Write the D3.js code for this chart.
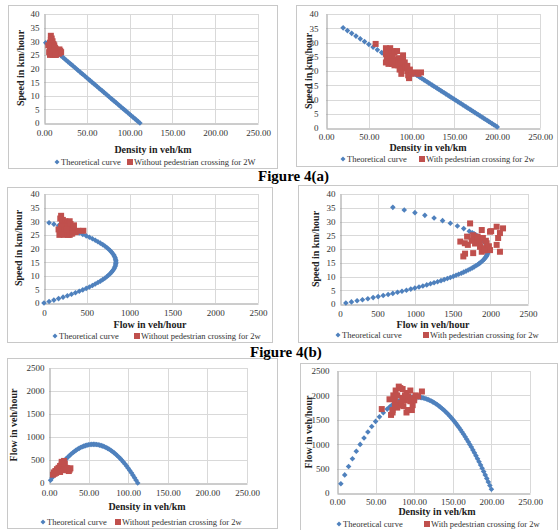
<!DOCTYPE html>
<html><head><meta charset="utf-8">
<script src="https://cdn.jsdelivr.net/npm/d3@7"></script>
<style>body{margin:0;background:#fff}svg{display:block}svg text{font-family:"Liberation Serif","Times New Roman",serif}</style>
</head><body>
<svg id="c" width="558" height="530"></svg>
<script>
// ---------- DATA ----------
// Theoretical curve (left column: without pedestrian crossing)
const thLeftDensity = [2,4,6,8,10,12,14,16,18,20,22,24,26,28,30,32,34,36,38,40,42,44,46,48,50,52,54,56,58,60,62,64,66,68,70,72,74,76,78,80,82,84,86,88,90,92,94,96,98,100,102,104,106,108,110,112];
const thLeftSpeed = [29.46,28.93,28.39,27.86,27.32,26.79,26.25,25.71,25.18,24.64,24.11,23.57,23.04,22.50,21.96,21.43,20.89,20.36,19.82,19.29,18.75,18.21,17.68,17.14,16.61,16.07,15.54,15.00,14.46,13.93,13.39,12.86,12.32,11.79,11.25,10.71,10.18,9.64,9.11,8.57,8.04,7.50,6.96,6.43,5.89,5.36,4.82,4.29,3.75,3.21,2.68,2.14,1.61,1.07,0.54,0.00];
// Theoretical curve (right column: with pedestrian crossing)
const thRightDensity = [5,10,15,20,25,30,35,40,45,50,55,60,65,68,70,72,74,76,78,80,82,84,86,88,90,92,94,96,98,100,102,104,106,108,110,112,114,116,118,120,122,124,126,128,130,132,134,136,138,140,142,144,146,148,150,152,154,156,158,160,162,164,166,168,170,172,174,176,178,180,182,184,186,188,190,192,194,196,198,200];
const thRightSpeed = [38.03,37.07,36.10,35.14,34.17,33.21,32.24,31.28,30.31,29.35,28.38,27.42,26.45,25.87,25.49,25.10,24.71,24.33,23.94,23.55,23.17,22.78,22.40,22.01,21.62,21.24,20.85,20.47,20.08,19.69,19.31,18.92,18.53,18.15,17.76,17.38,16.99,16.60,16.22,15.83,15.45,15.06,14.67,14.29,13.90,13.51,13.13,12.74,12.36,11.97,11.58,11.20,10.81,10.43,10.04,9.65,9.27,8.88,8.50,8.11,7.72,7.34,6.95,6.56,6.18,5.79,5.41,5.02,4.63,4.25,3.86,3.48,3.09,2.70,2.32,1.93,1.54,1.16,0.77,0.39];

// Observed: speed-density without crossing (Fig 4a left)
const obsA1Density = [8,9,8,10,7,9,11,12,8,10,13,7,11,14,16,18,6,9,12,15,19,7,10,13,16,18,8,12,10,14,5,20];
const obsA1Speed   = [32,31,30.5,30,29.5,29,29,28.5,28,28,27.5,27,27,27,26.5,27,26,26,26,26,26.5,25,25,25,25.5,25.5,27.5,27.8,26.5,25,28.5,26];
// Observed: speed-density with crossing (Fig 4a right)
const obsA2Density = [58,70,72,75,78,73,70,76,80,83,72,75,78,71,74,80,85,70,73,77,82,87,90,80,84,88,92,89,93,86,88,95,98,97,96,100,104,108,111,95,90,78];
const obsA2Speed   = [29.5,28,27.5,28,27,26.5,26,26,26.5,27,25,24.5,25,24,23.5,24,24.5,23,22.5,22.5,23,23.5,24,22,22,22.5,23,21,21.5,20.5,19,20,20.5,17.5,18.5,19,19.5,19,19.5,21.8,25.5,23.5];
// Observed: speed-flow without crossing (Fig 4b left)
const obsB1Flow  = [200,190,220,210,250,280,300,230,260,200,280,320,340,350,300,250,220,180,230,280,320,370,400,170,300,330,460,260,310,350];
const obsB1Speed = [32,31,30.5,29.5,30,29.5,30,28.5,28,28,27.5,28,27,26.5,26.5,26,26.5,25,25,25,25.5,26,26.5,27,25,25.5,26.5,27,29,28.5];
// Observed: speed-flow with crossing (Fig 4b right)
const obsB2Flow  = [1730,1600,1660,1690,1770,1820,1885,1900,1950,1995,2083,2168,2127,2103,2083,1995,1885,1771,1663,1640,2127,1862,1928,1796,1860,1750,1700,1940,1980,1920,1830,2010];
const obsB2Speed = [29.3,22.7,22.1,24.5,25,23.3,26.9,24,22.1,26.3,28.1,27.5,25.8,24,21.5,19.6,19,18.5,18.3,17.3,19,20.8,20.3,22,22.5,23,21.5,23,21,19.5,24.5,26.5];
// Observed: flow-density without crossing (Fig 4c left)
const obsC1Density = [5,6,8,7,10,12,11,14,16,18,19,17,15,13,20,22,24,26,27,25,21,18,9,16,20,23,14];
const obsC1Flow    = [180,230,260,200,300,330,250,370,400,430,480,350,300,280,300,280,300,290,320,260,330,280,220,460,420,320,240];
// Observed: flow-density with crossing (Fig 4c right)
const obsC2Density = [58,70,72,75,73,76,80,82,85,90,95,85,88,80,78,90,92,97,98,95,100,105,110,102,83,75,72,68,92,88,100,78,86];
const obsC2Flow    = [1720,1600,1650,1900,2000,2100,2180,2150,2130,2050,2100,1950,1900,1800,1750,1650,1700,1700,1800,1880,1950,1980,2080,2000,1850,1800,1700,1920,1980,2000,1900,2000,1780];

const densityTicks = [0,50,100,150,200,250];
const flowTicks = [0,500,1000,1500,2000,2500];
const speedTicks = [0,5,10,15,20,25,30,35,40];

const leftFlow = thLeftDensity.map((k,i)=>k*thLeftSpeed[i]);
const rightFlow = thRightDensity.map((k,i)=>k*thRightSpeed[i]);

// ---------- DRAW ----------
const svg = d3.select('#c');
const BLUE = '#4F81BD', RED = '#C0504D', GRID = '#D9D9D9';

function diamond(g, pts, r){
  g.selectAll(null).data(pts).join('path')
   .attr('d', d=>`M${d[0]},${d[1]-r}L${d[0]+r},${d[1]}L${d[0]},${d[1]+r}L${d[0]-r},${d[1]}Z`)
   .attr('fill', BLUE);
}
function squares(g, pts, s){
  g.selectAll(null).data(pts).join('rect')
   .attr('x', d=>d[0]-s/2).attr('y', d=>d[1]-s/2).attr('width', s).attr('height', s)
   .attr('fill', RED);
}

function panel(c){
  const g = svg.append('g');
  g.append('rect').attr('x', c.box[0]+0.5).attr('y', c.box[1]+0.5)
   .attr('width', c.box[2]-c.box[0]).attr('height', c.box[3]-c.box[1])
   .attr('fill', '#fff').attr('stroke', '#C8C8C8');
  const x = d3.scaleLinear().domain([c.xTicks[0], c.xTicks[c.xTicks.length-1]]).range([c.px[0], c.px[1]]);
  const y = d3.scaleLinear().domain([c.yTicks[0], c.yTicks[c.yTicks.length-1]]).range([c.py[0], c.py[1]]);
  g.append('g').selectAll(null).data(c.xTicks.slice(1)).join('line')
   .attr('x1', d=>Math.round(x(d))+0.5).attr('x2', d=>Math.round(x(d))+0.5)
   .attr('y1', c.py[0]).attr('y2', c.py[1]).attr('stroke', GRID);
  g.append('g').selectAll(null).data(c.yTicks.slice(1)).join('line')
   .attr('y1', d=>Math.round(y(d))+0.5).attr('y2', d=>Math.round(y(d))+0.5)
   .attr('x1', c.px[0]).attr('x2', c.px[1]).attr('stroke', GRID);
  const ax = g.append('g').attr('transform', `translate(0,${Math.round(c.py[0])+0.5})`)
   .call(d3.axisBottom(x).tickValues(c.xTicks).tickFormat(c.xFmt).tickSize(0).tickPadding(c.xpad||6));
  const ay = g.append('g').attr('transform', `translate(${Math.round(c.px[0])+0.5},0)`)
   .call(d3.axisLeft(y).tickValues(c.yTicks).tickFormat(d3.format('d')).tickSize(0).tickPadding(c.ypad||5));
  [ax, ay].forEach(a=>{
    a.select('.domain').attr('stroke', '#9A9A9A');
    a.selectAll('text').attr('font-size', 9).attr('fill', '#333');
  });
  const plot = g.append('g');
  diamond(plot, c.theo.map(d=>[x(d[0]), y(d[1])]), 2.8);
  squares(plot, c.obs.map(d=>[x(d[0]), y(d[1])]), 6);
  g.append('text').attr('x', c.xt[0]).attr('y', c.xt[1]).attr('text-anchor', 'middle')
   .attr('font-weight', 'bold').attr('font-size', 10).attr('fill', '#222').text(c.xTitle);
  g.append('text').attr('transform', `translate(${c.yt[0]},${c.yt[1]}) rotate(-90)`).attr('text-anchor', 'middle')
   .attr('font-weight', 'bold').attr('font-size', 10).attr('fill', '#222').text(c.yTitle);
  const ly = c.leg[0];
  diamond(g, [[c.leg[1], ly]], 2.5);
  g.append('text').attr('x', c.leg[1]+4).attr('y', ly+3).attr('font-size', 8.5).attr('fill', '#333').text('Theoretical curve');
  squares(g, [[c.leg[2], ly]], 6);
  g.append('text').attr('x', c.leg[2]+4).attr('y', ly+3).attr('font-size', 8.5).attr('fill', '#333').text(c.legText);
}

const f2 = d3.format('.2f'), fd = d3.format('d');
const zip = (a,b)=>a.map((v,i)=>[v,b[i]]);
const rightFromIdx = thRightDensity.indexOf(20);

panel({box:[8,5,277,168], px:[44,258], py:[123,14], xTicks:densityTicks, yTicks:speedTicks, xFmt:f2,
  xTitle:'Density in veh/km', yTitle:'Speed in km/hour', xt:[153,153], yt:[24,68], leg:[162,57,130],
  legText:'Without pedestrian crossing for 2W',
  theo: zip(thLeftDensity, thLeftSpeed), obs: zip(obsA1Density, obsA1Speed)});

panel({box:[296,5,557,166], px:[326,540], py:[128,14], xTicks:densityTicks, yTicks:speedTicks, xFmt:f2, xpad:5, ypad:8,
  xTitle:'Density in veh/km', yTitle:'Speed in km/hour', xt:[428,151], yt:[312,71], leg:[159,343,422],
  legText:'With pedestrian crossing for 2w',
  theo: zip(thRightDensity.slice(rightFromIdx), thRightSpeed.slice(rightFromIdx)), obs: zip(obsA2Density, obsA2Speed)});

panel({box:[7,187,272,342], px:[44,258], py:[303,194], xTicks:flowTicks, yTicks:speedTicks, xFmt:fd,
  xTitle:'Flow in veh/hour', yTitle:'Speed in km/hour', xt:[150,328], yt:[22,248], leg:[336,55,137],
  legText:'Without pedestrian crossing for 2w',
  theo: zip(leftFlow, thLeftSpeed), obs: zip(obsB1Flow, obsB1Speed)});

panel({box:[298,185,557,342], px:[340,528], py:[304,194], xTicks:flowTicks, yTicks:speedTicks, xFmt:fd,
  xTitle:'Flow in veh/hour', yTitle:'Speed in km/hour', xt:[433,328], yt:[319,249], leg:[335,338,426],
  legText:'With pedestrian crossing for 2w',
  theo: zip(rightFlow.slice(rightFromIdx), thRightSpeed.slice(rightFromIdx)), obs: zip(obsB2Flow, obsB2Speed)});

panel({box:[7,358,277,528], px:[49,247], py:[483,368], xTicks:densityTicks, yTicks:flowTicks, xFmt:f2,
  xTitle:'Density in veh/km', yTitle:'Flow in veh/hour', xt:[147,510], yt:[17,425], leg:[522,43,118],
  legText:'Without pedestrian crossing for 2w',
  theo: zip(thLeftDensity, leftFlow), obs: zip(obsC1Density, obsC1Flow)});

panel({box:[300,363,557,530], px:[337,530], py:[493,371], xTicks:densityTicks, yTicks:flowTicks, xFmt:f2, xpad:5, ypad:8,
  xTitle:'Density in veh/km', yTitle:'Flow in veh/hour', xt:[437,515], yt:[312,432], leg:[524,339,427],
  legText:'With pedestrian crossing for 2w',
  theo: zip(thRightDensity, rightFlow), obs: zip(obsC2Density, obsC2Flow)});

svg.append('text').attr('x', 258).attr('y', 181).attr('font-weight', 'bold')
  .attr('font-size', 15).attr('fill', '#000').text('Figure 4(a)');
svg.append('text').attr('x', 250).attr('y', 357).attr('font-weight', 'bold')
  .attr('font-size', 15).attr('fill', '#000').text('Figure 4(b)');
</script>
</body></html>
